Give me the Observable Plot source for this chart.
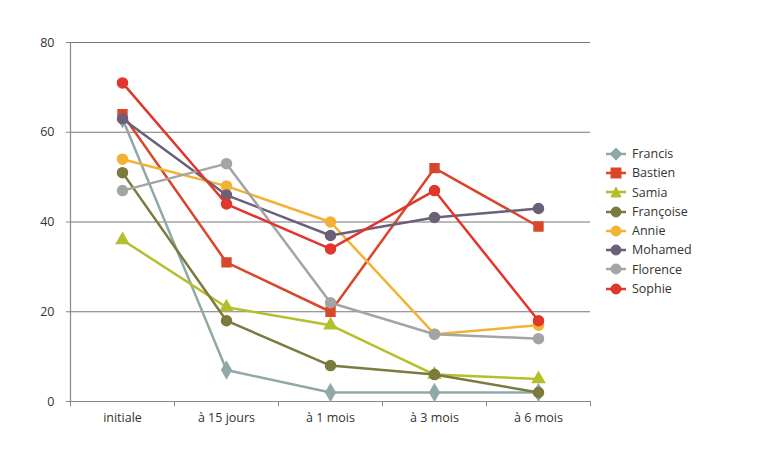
<!DOCTYPE html><html><head><meta charset="utf-8">
<script src="https://cdn.jsdelivr.net/npm/d3@7"></script>
<script src="https://cdn.jsdelivr.net/npm/@observablehq/plot@0.6"></script>
<style>body{margin:0;background:#fff;font-family:"Open Sans",sans-serif}#c{position:relative;width:778px;height:450px}
#lg{position:absolute;left:606px;top:144px;font-size:12.5px;color:#333;line-height:19.3px}
#lg div{display:flex;align-items:center}#lg svg{margin-right:6px}</style></head><body><div id="c"></div>
<script>
const categories=["initiale","à 15 jours","à 1 mois","à 3 mois","à 6 mois"];
const names=["Francis","Bastien","Samia","Françoise","Annie","Mohamed","Florence","Sophie"];
const colors=["#8fa9a8","#d9472b","#b5be2c","#7c7a3c","#f2b233","#6b6078","#a3a5a5","#e0362c"];
const symbols=["diamond","square","triangle","circle","circle","circle","circle","circle"];
const Francis=[63,7,2,2,2];
const Bastien=[64,31,20,52,39];
const Samia=[36,21,17,6,5];
const Francoise=[51,18,8,6,2];
const Annie=[54,48,40,15,17];
const Mohamed=[63,46,37,41,43];
const Florence=[47,53,22,15,14];
const Sophie=[71,44,34,47,18];
const series=[Francis,Bastien,Samia,Francoise,Annie,Mohamed,Florence,Sophie];
const data=[];
series.forEach((s,k)=>s.forEach((v,i)=>data.push({name:names[k],i,v,k})));
const marks=[
 Plot.ruleY([20,40,60,80],{stroke:"#777",strokeWidth:1.2,x1:-0.5,x2:4.5}),
 Plot.ruleY([0],{stroke:"#888",strokeWidth:1.2,x1:-0.5,x2:4.5}),
 Plot.ruleX([-0.5],{y1:0,y2:80,stroke:"#888",strokeWidth:1.2}),
 Plot.ruleX([-0.5,0.5,1.5,2.5,3.5,4.5],{y1:0,y2:-1.2,stroke:"#888"}),
 Plot.ruleY([0,20,40,60,80],{x1:-0.5,x2:-0.54,stroke:"#888"})
];
series.forEach((s,k)=>{
 const d=data.filter(r=>r.k===k);
 marks.push(Plot.line(d,{x:"i",y:"v",stroke:colors[k],strokeWidth:2.5}));
 marks.push(Plot.dot(d,{x:"i",y:"v",fill:colors[k],stroke:colors[k],symbol:()=>symbols[k],r:symbols[k]==="triangle"?4.5:5}));
});
const chart=Plot.plot({width:778,height:450,marginLeft:70,marginRight:188,marginTop:42,marginBottom:49,
 style:{fontFamily:"Open Sans",fontSize:"12.5px",color:"#333"},
 x:{domain:[-0.5,4.5],ticks:[0,1,2,3,4],tickFormat:i=>categories[i],tickSize:0,tickPadding:12,label:null},
 y:{domain:[0,80],ticks:[0,20,40,60,80],tickSize:0,tickPadding:16,label:null},
 symbol:{type:"identity"},
 marks});
document.getElementById("c").appendChild(chart);
const lg=document.createElement("div");lg.id="lg";
names.forEach((n,k)=>{
 const sym={diamond:'<path d="M10 2L16 8L10 14L4 8Z"/>',square:'<rect x="5" y="3" width="10" height="10"/>',triangle:'<path d="M10 3L15 13L5 13Z"/>',circle:'<circle cx="10" cy="8" r="5"/>'}[symbols[k]];
 lg.innerHTML+=`<div><svg width="20" height="16" fill="${colors[k]}" stroke="${colors[k]}"><line x1="0" y1="8" x2="20" y2="8" stroke-width="2.5"/>${sym}</svg>${n}</div>`;
});
document.getElementById("c").appendChild(lg);
</script></body></html>
